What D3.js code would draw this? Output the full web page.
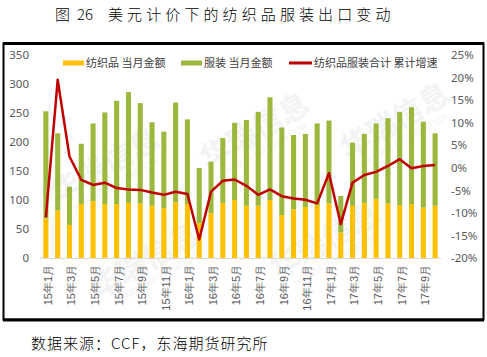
<!DOCTYPE html>
<html><head><meta charset="utf-8">
<script src="https://cdn.jsdelivr.net/npm/d3@7"></script>
<style>
body{margin:0;background:#fff;}
svg{display:block;font-family:"Microsoft YaHei","Noto Sans CJK SC",sans-serif;}
</style></head>
<body><svg id="c" width="487" height="357"></svg>
<script>
const months = ["15年1月","15年2月","15年3月","15年4月","15年5月","15年6月","15年7月","15年8月","15年9月","15年10月","15年11月","15年12月",
"16年1月","16年2月","16年3月","16年4月","16年5月","16年6月","16年7月","16年8月","16年9月","16年10月","16年11月","16年12月",
"17年1月","17年2月","17年3月","17年4月","17年5月","17年6月","17年7月","17年8月","17年9月","17年10月"];
const textile = [68,82,57,93,98,93,93,95,94,90,86,96, 93,60,77,95,100,90,90,100,74,84,88,91, 94,44,90,95,102,94,91,93,87,90];
const apparel = [185,133,66,104,134,158,178,191,173,144,132,172, 146,95,89,112,133,148,162,177,151,128,126,141, 143,63,109,119,130,147,161,167,148,125];
const growth = [-11,19.5,2.5,-2.7,-3.8,-3.3,-4.5,-4.8,-4.9,-5.5,-6,-5.3, -5.8,-15.9,-5.3,-2.9,-2.6,-4,-6,-4.8,-6.3,-6.8,-7.1,-7.9, -1.2,-12.5,-3.3,-1.6,-0.9,0.4,1.9,-0.1,0.4,0.6];
const leftTicks = [0,50,100,150,200,250,300,350];
const rightTicks = [-20,-15,-10,-5,0,5,10,15,20,25];
const seriesNames = ["纺织品 当月金额","服装 当月金额","纺织品服装合计 累计增速"];

const svg = d3.select("#c");
const colY = "#FFC000", colG = "#9BB83C", colR = "#C00000";

// title
const title = svg.append("text").attr("y",20).attr("font-size",15).attr("fill","#000").attr("font-weight",300);
title.append("tspan").attr("x",55).text("图");
title.append("tspan").attr("x",77).text("26");
title.append("tspan").attr("x",108).attr("letter-spacing","4.1px").text("美元计价下的纺织品服装出口变动");

// frame
svg.append("rect").attr("x",3.5).attr("y",43.5).attr("width",480).attr("height",276)
  .attr("fill","none").attr("stroke","#000").attr("stroke-width",2);
svg.append("line").attr("x1",3).attr("x2",484).attr("y1",43.5).attr("y2",43.5).attr("stroke","#000").attr("stroke-width",3);
svg.append("line").attr("x1",3).attr("x2",484).attr("y1",320).attr("y2",320).attr("stroke","#000").attr("stroke-width",3);

// watermarks
const wm = [[110,175],[260,140],[400,130],[330,250],[150,270]];
wm.forEach(([x,y])=>{
  const g = svg.append("g").attr("transform",`translate(${x},${y}) rotate(-30)`).attr("opacity",0.35);
  g.append("text").attr("text-anchor","middle").attr("font-size",30).attr("font-weight",700).attr("fill","#d8dde3").text("华瑞信息");
  g.append("text").attr("text-anchor","middle").attr("y",14).attr("font-size",9).attr("fill","#d8dde3").text("HUARUI INFORMATION");
});

const x = d3.scaleBand().domain(months).range([40,441]).paddingInner(0.57).paddingOuter(0.285);
const yL = d3.scaleLinear().domain([0,350]).range([258,55]);
const yR = d3.scaleLinear().domain([-20,25]).range([258,55]);

// bars
const data = months.map((m,i)=>({m, t:textile[i], a:apparel[i], g:growth[i]}));
svg.append("g").selectAll("rect").data(data).join("rect")
  .attr("x",d=>x(d.m)).attr("width",x.bandwidth())
  .attr("y",d=>yL(d.t)).attr("height",d=>yL(0)-yL(d.t)).attr("fill",colY);
svg.append("g").selectAll("rect").data(data).join("rect")
  .attr("x",d=>x(d.m)).attr("width",x.bandwidth())
  .attr("y",d=>yL(d.t+d.a)).attr("height",d=>yL(d.t)-yL(d.t+d.a)).attr("fill",colG);

// baseline
svg.append("line").attr("x1",40).attr("x2",441).attr("y1",yL(0)+0.5).attr("y2",yL(0)+0.5).attr("stroke","#d9d9d9");

// line
const line = d3.line().x(d=>x(d.m)+x.bandwidth()/2).y(d=>yR(d.g));
svg.append("path").datum(data).attr("d",line).attr("fill","none").attr("stroke",colR)
  .attr("stroke-width",2.5).attr("stroke-linejoin","round");

// axes
const axL = svg.append("g").attr("transform","translate(29,0)")
  .call(d3.axisLeft(yL).tickValues(leftTicks).tickSize(0).tickPadding(0));
axL.select(".domain").remove();
axL.selectAll("text").attr("font-size",11.5).attr("fill","#595959").attr("font-family","Microsoft YaHei, Noto Sans, sans-serif");

const axR = svg.append("g").attr("transform","translate(451,0)")
  .call(d3.axisRight(yR).tickValues(rightTicks).tickSize(0).tickPadding(0).tickFormat(d=>d+"%"));
axR.select(".domain").remove();
axR.selectAll("text").attr("font-size",11.5).attr("fill","#595959").attr("font-family","Microsoft YaHei, Noto Sans, sans-serif");

const axB = svg.append("g").attr("transform","translate(0,265)")
  .call(d3.axisBottom(x).tickValues(months.filter((m,i)=>i%2===0)).tickSize(0).tickPadding(0));
axB.select(".domain").remove();
axB.selectAll("text").attr("font-size",11).attr("fill","#595959")
  .attr("text-anchor","end").attr("x",0).attr("y",0).attr("dy","0.35em").attr("dx","0")
  .attr("transform","translate(2,0) rotate(-90)");

// legend
const lg = svg.append("g").attr("font-size",11).attr("fill","#404040");
const lItems = [{x:63,c:colY,w:21,h:5},{x:181,c:colG,w:21,h:5},{x:289,c:colR,w:23,h:3}];
lItems.forEach((it,i)=>{
  lg.append("rect").attr("x",it.x).attr("y",63-it.h/2).attr("width",it.w).attr("height",it.h).attr("fill",it.c);
  lg.append("text").attr("x",it.x+it.w+2).attr("y",63).attr("dy","0.35em").attr("fill","#404040").text(seriesNames[i]);
});

// source
svg.append("text").attr("x",31).attr("y",349).attr("font-size",15).attr("fill","#000").attr("font-weight",300)
  .attr("letter-spacing","1px").text("数据来源：CCF，东海期货研究所");
</script></body></html>
